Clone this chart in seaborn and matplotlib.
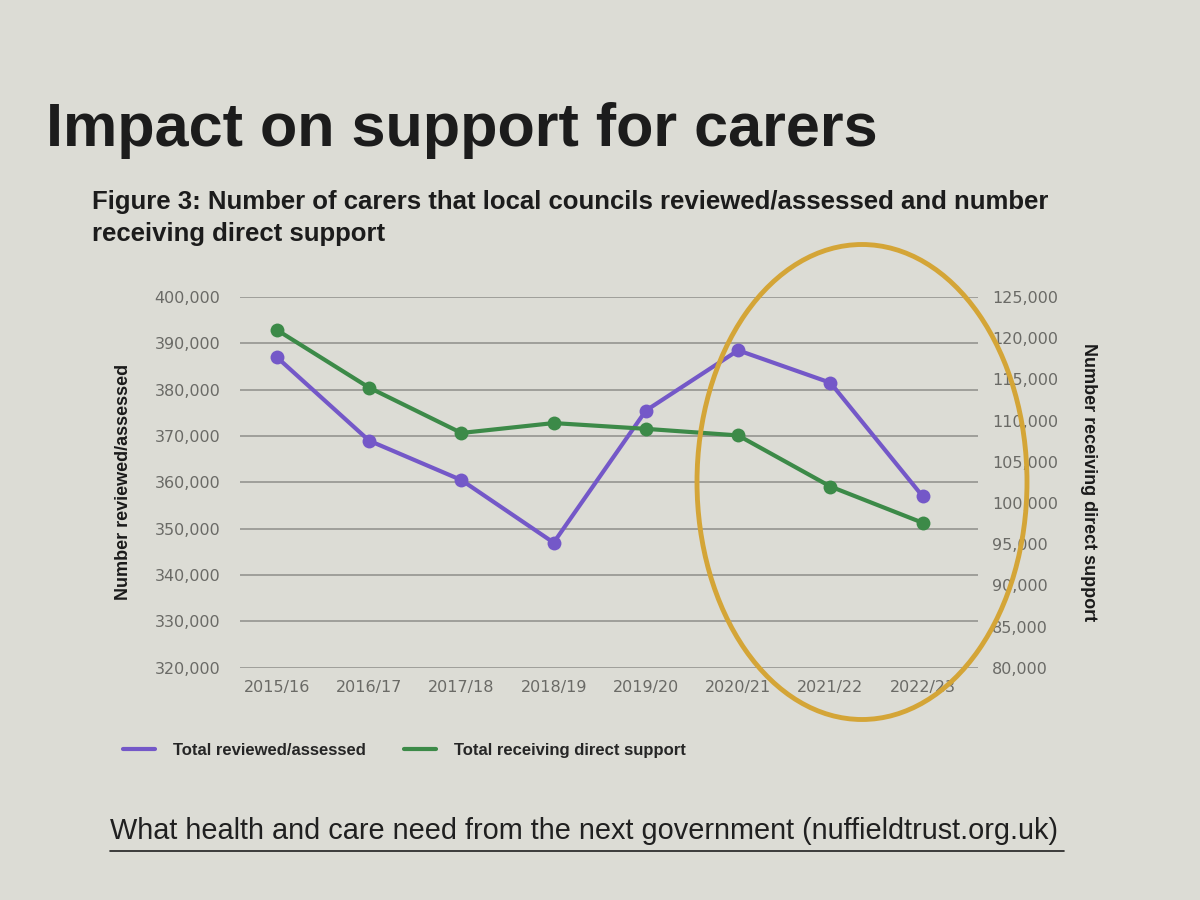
import matplotlib
matplotlib.use("Agg")
import matplotlib.pyplot as plt
from matplotlib.patches import Ellipse
from matplotlib.lines import Line2D
import matplotlib.ticker as mticker
import seaborn as sns
import pandas as pd

years = ["2015/16", "2016/17", "2017/18", "2018/19", "2019/20", "2020/21", "2021/22", "2022/23"]
reviewed = [387000, 369000, 360500, 347000, 375500, 388500, 381500, 357000]
direct_support = [121000, 114000, 108500, 109700, 109000, 108200, 102000, 97600]

left_ticks = [320000, 330000, 340000, 350000, 360000, 370000, 380000, 390000, 400000]
right_ticks = [80000, 85000, 90000, 95000, 100000, 105000, 110000, 115000, 120000, 125000]

BG = "#dcdcd5"
PURPLE = "#7458c8"
GREEN = "#3c8a48"
GRID = "#8e8e8a"
TICK = "#6a6a66"

sns.set_theme(style="white")
plt.rcParams["font.family"] = ["Liberation Sans", "DejaVu Sans"]

df = pd.DataFrame({"year": years, "reviewed": reviewed, "direct": direct_support})

fig = plt.figure(figsize=(12, 9), dpi=100, facecolor=BG)
ax = fig.add_axes([0.20, 0.258, 0.615, 0.412])
ax.set_facecolor("none")

sns.lineplot(data=df, x="year", y="reviewed", ax=ax, color=PURPLE, linewidth=3,
             marker="o", markersize=10, markeredgewidth=0, sort=False)
ax2 = ax.twinx()
sns.lineplot(data=df, x="year", y="direct", ax=ax2, color=GREEN, linewidth=3,
             marker="o", markersize=10, markeredgewidth=0, sort=False)

ax.set_xlim(-0.4, 7.6)
ax.set_ylim(320000, 400000)
ax.set_yticks(left_ticks)
ax2.set_ylim(80000, 125000)
ax2.set_yticks(right_ticks)
fmt = mticker.FuncFormatter(lambda v, p: f"{int(v):,}")
ax.yaxis.set_major_formatter(fmt)
ax2.yaxis.set_major_formatter(fmt)

ax.grid(axis="y", color=GRID, linewidth=1.1)
ax.grid(axis="x", visible=False)
ax2.grid(False)
for a in (ax, ax2):
    for s in a.spines.values():
        s.set_visible(False)
    a.tick_params(length=0, colors=TICK, labelsize=11.5)
    for lab in a.get_xticklabels() + a.get_yticklabels():
        lab.set_family("DejaVu Sans")
ax.tick_params(axis="y", pad=14)
ax.tick_params(axis="x", pad=9)
ax2.tick_params(axis="y", pad=10)

ax.set_xlabel("")
ax.set_ylabel("Number reviewed/assessed", fontsize=13, fontweight="bold", color="#1a1a1a", labelpad=16)
ax2.set_ylabel("Number receiving direct support", fontsize=13, fontweight="bold", color="#1a1a1a",
               rotation=270, labelpad=28)

fig.text(0.038, 0.855, "Impact on support for carers", fontsize=44, fontweight="bold",
         color="#1c1c1c", ha="left", va="center")
fig.text(0.077, 0.758, "Figure 3: Number of carers that local councils reviewed/assessed and number\nreceiving direct support",
         fontsize=18.5, fontweight="bold", color="#1c1c1c", ha="left", va="center", linespacing=1.45)

# legend
handles = [Line2D([0], [0], color=PURPLE, linewidth=3),
           Line2D([0], [0], color=GREEN, linewidth=3)]
fig.legend(handles, ["Total reviewed/assessed", "Total receiving direct support"],
           loc="center left", bbox_to_anchor=(0.090, 0.166), ncol=2, frameon=False,
           handlelength=1.9, columnspacing=2.3, handletextpad=1.1,
           prop={"weight": "semibold", "size": 12})

# footer link
fig.text(0.092, 0.077, "What health and care need from the next government (nuffieldtrust.org.uk)",
         fontsize=20.8, color="#202020", ha="left", va="center")
fig.add_artist(Line2D([0.092, 0.887], [0.055, 0.055], color="#202020", linewidth=1.2,
                      transform=fig.transFigure))

# hand-drawn highlight ellipse
ell = Ellipse((862 / 1200, 1 - 482 / 900), width=330 / 1200, height=475 / 900, angle=0,
              transform=fig.transFigure, fill=False, edgecolor="#d4a537", linewidth=3.5)
fig.add_artist(ell)

fig.savefig("out.png", dpi=100, facecolor=BG)
